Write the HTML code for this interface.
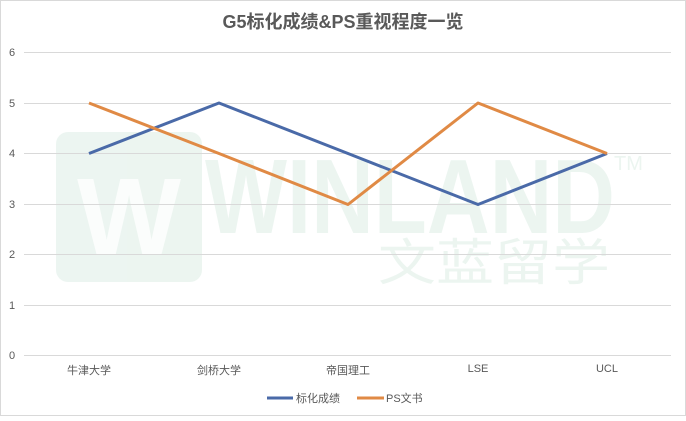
<!DOCTYPE html>
<html><head><meta charset="utf-8"><style>
html,body{margin:0;padding:0;background:#fff}
body{width:686px;height:416px;overflow:hidden}
</style></head><body>
<svg width="686" height="416" viewBox="0 0 686 416" xmlns="http://www.w3.org/2000/svg" font-family="Liberation Sans, Noto Sans CJK SC, sans-serif">
<rect x="0.5" y="0.5" width="685" height="415" fill="#fff" stroke="#d9d9d9"/>
<g fill="#e6f2ec" opacity="0.75">
<rect x="56" y="132" width="146" height="150" rx="12"/>
<text x="205" y="233" font-size="106" font-weight="bold" textLength="410" lengthAdjust="spacingAndGlyphs" font-family="Liberation Sans, sans-serif">WINLAND</text>
<text x="378" y="280" font-size="50" font-family="Noto Sans CJK SC, sans-serif" textLength="232" lengthAdjust="spacingAndGlyphs">文蓝留学</text>
<text x="614" y="170" font-size="20">TM</text>
</g>
<text x="129" y="255" font-size="110" font-weight="bold" fill="#fff" text-anchor="middle" opacity="0.8">W</text>
<text x="343" y="28" font-size="18" fill="#595959" text-anchor="middle" font-weight="bold">G5标化成绩&amp;PS重视程度一览</text>
<g stroke="#d9d9d9" stroke-width="1">
<line x1="24" y1="52.5" x2="671" y2="52.5"/>
<line x1="24" y1="103.5" x2="671" y2="103.5"/>
<line x1="24" y1="153.5" x2="671" y2="153.5"/>
<line x1="24" y1="204.5" x2="671" y2="204.5"/>
<line x1="24" y1="254.5" x2="671" y2="254.5"/>
<line x1="24" y1="305.5" x2="671" y2="305.5"/>
<line x1="24" y1="355.5" x2="671" y2="355.5"/>
</g>
<g font-size="11" fill="#595959" text-anchor="middle">
<text x="12" y="56">6</text><text x="12" y="107">5</text><text x="12" y="157">4</text><text x="12" y="208">3</text><text x="12" y="258">2</text><text x="12" y="309">1</text><text x="12" y="359">0</text>
<text x="89" y="374">牛津大学</text><text x="219" y="374">剑桥大学</text><text x="348" y="374">帝国理工</text><text x="478" y="372">LSE</text><text x="607" y="372">UCL</text>
</g>
<polyline fill="none" stroke="#4a6aa8" stroke-width="3" stroke-linejoin="round" points="89,153.5 219,103 348,153.5 478,204.5 607,153.5"/>
<polyline fill="none" stroke="#e08a45" stroke-width="3" stroke-linejoin="round" points="89,103 219,153.5 348,204.5 478,103 607,153.5"/>
<line x1="267" y1="398" x2="293" y2="398" stroke="#4a6aa8" stroke-width="3"/>
<text x="296" y="402" font-size="11" fill="#595959">标化成绩</text>
<line x1="357" y1="398" x2="384" y2="398" stroke="#e08a45" stroke-width="3"/>
<text x="386" y="402" font-size="11" fill="#595959">PS文书</text>
</svg>
</body></html>
